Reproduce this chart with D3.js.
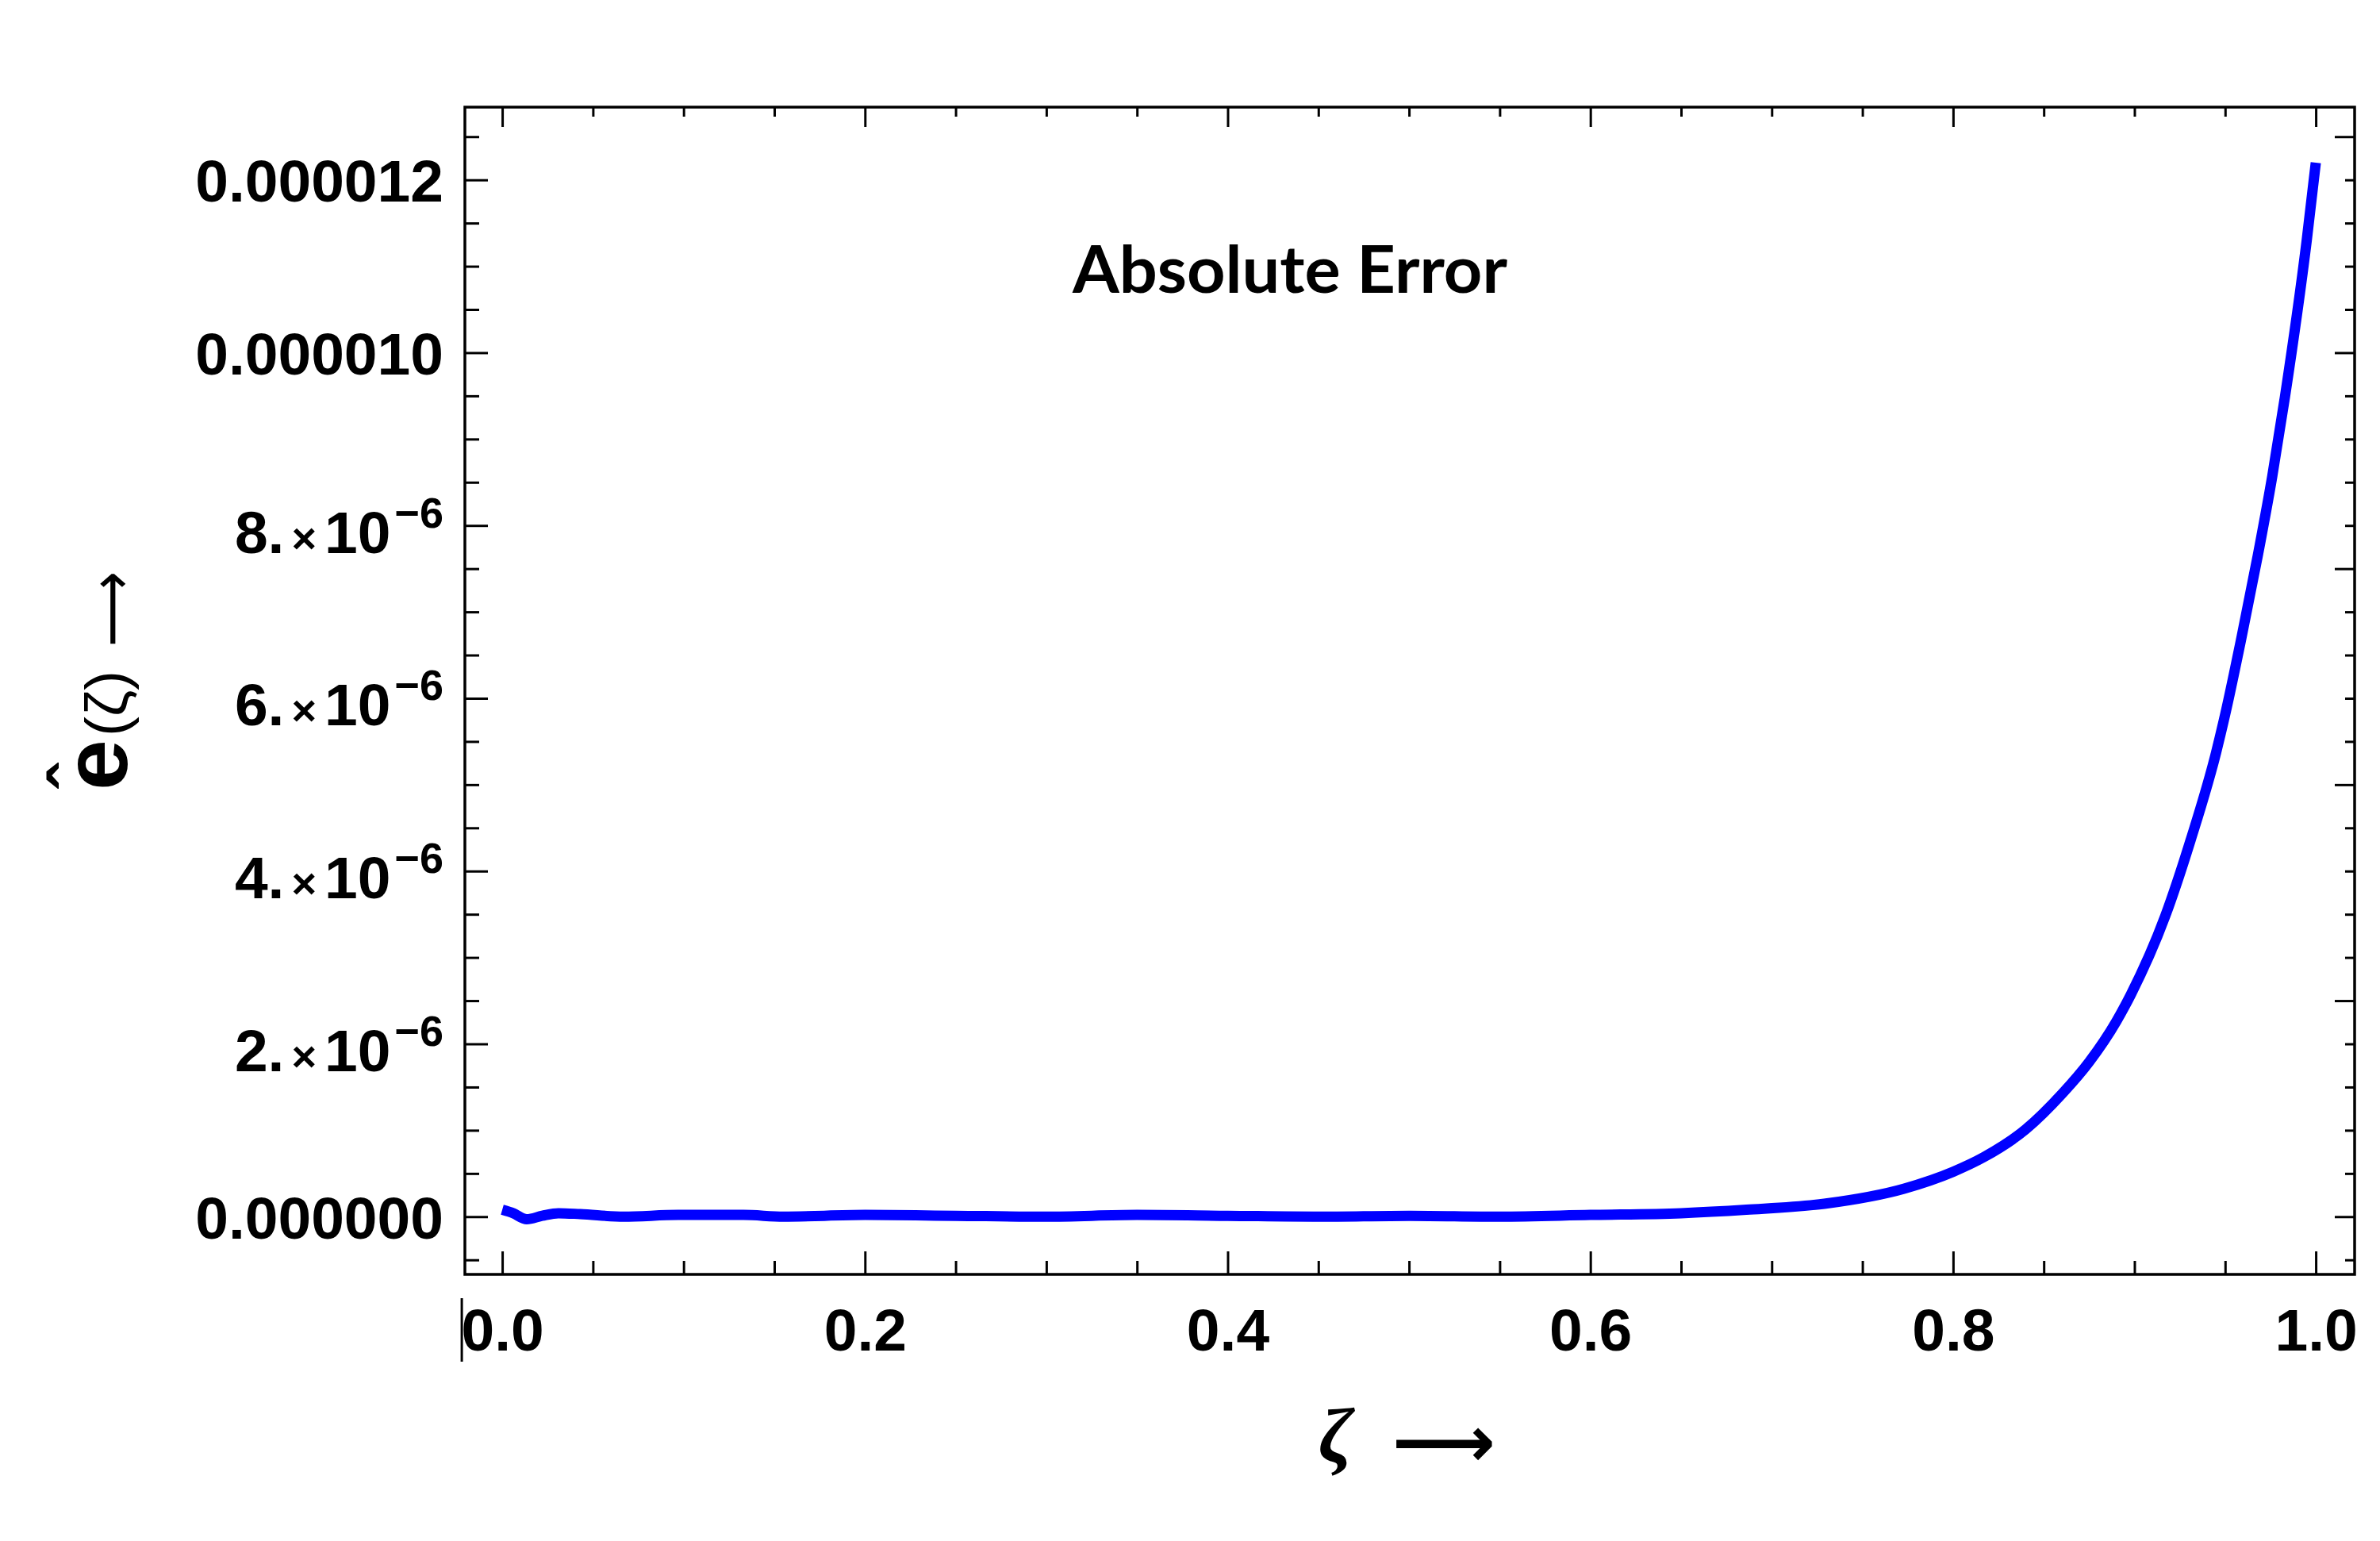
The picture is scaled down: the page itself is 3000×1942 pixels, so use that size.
<!DOCTYPE html>
<html>
<head>
<meta charset="utf-8">
<script src="https://cdn.jsdelivr.net/npm/d3@7"></script>
<style>
  html, body { margin: 0; padding: 0; background: #ffffff; }
  svg { display: block; }
</style>
</head>
<body>
<svg id="chart" width="3000" height="1942"></svg>
<script>
// ---------------- data ----------------
const zeta = [0, 0.006, 0.0135, 0.022, 0.031, 0.043, 0.067, 0.097, 0.133, 0.155,
  0.2, 0.25, 0.3, 0.35, 0.4, 0.45, 0.5, 0.55, 0.6, 0.65,
  0.686, 0.729, 0.773, 0.8, 0.817, 0.84, 0.86, 0.875, 0.89, 0.898,
  0.917, 0.931, 0.945, 0.950, 0.959, 0.968, 0.976, 0.983, 0.995, 1.0];
const absError = [0.08e-6, 0.04e-6, -0.03e-6, 0.01e-6, 0.04e-6, 0.03e-6, 0.0, 0.02e-6, 0.02e-6, 0.0,
  0.02e-6, 0.01e-6, 0.0, 0.02e-6, 0.01e-6, 0.0, 0.01e-6, 0.0, 0.02e-6, 0.04e-6,
  0.08e-6, 0.15e-6, 0.325e-6, 0.52e-6, 0.69e-6, 1.01e-6, 1.42e-6, 1.79e-6, 2.26e-6, 2.57e-6,
  3.48e-6, 4.36e-6, 5.37e-6, 5.81e-6, 6.70e-6, 7.65e-6, 8.57e-6, 9.49e-6, 11.3e-6, 12.2e-6];

const xMajor = [0, 0.2, 0.4, 0.6, 0.8, 1.0];
const xTickLabels = ["0.0", "0.2", "0.4", "0.6", "0.8", "1.0"];
const xMinor = [0.05, 0.1, 0.15, 0.25, 0.3, 0.35, 0.45, 0.5, 0.55, 0.65, 0.7, 0.75, 0.85, 0.9, 0.95];

const yMajorLeft = [0, 2e-6, 4e-6, 6e-6, 8e-6, 10e-6, 12e-6];
const yTickMantissa = ["0.000000", "2.", "4.", "6.", "8.", "0.000010", "0.000012"];
const yTickExponent = [null, "\u22126", "\u22126", "\u22126", "\u22126", null, null];
const yMinorLeft = [-0.5e-6, 0.5e-6, 1e-6, 1.5e-6, 2.5e-6, 3e-6, 3.5e-6, 4.5e-6, 5e-6, 5.5e-6,
  6.5e-6, 7e-6, 7.5e-6, 8.5e-6, 9e-6, 9.5e-6, 10.5e-6, 11e-6, 11.5e-6, 12.5e-6];
const yMajorRight = [0, 2.5e-6, 5e-6, 7.5e-6, 10e-6, 12.5e-6];
const yMinorRight = [-0.5e-6, 0.5e-6, 1e-6, 1.5e-6, 2e-6, 3e-6, 3.5e-6, 4e-6, 4.5e-6, 5.5e-6, 6e-6,
  6.5e-6, 7e-6, 8e-6, 8.5e-6, 9e-6, 9.5e-6, 10.5e-6, 11e-6, 11.5e-6, 12e-6];

const titleText = "Absolute Error";

// ---------------- layout ----------------
const L = 586, R = 2968, T = 135, B = 1606;
const svg = d3.select("#chart");

const x = d3.scaleLinear().domain([-0.0206, 1.0214]).range([L, R]);
const y = d3.scaleLinear().domain([-0.668e-6, 12.842e-6]).range([B, T]);

const tickFont = "'Liberation Sans', Arial, sans-serif";

function styleTicks(g, w) {
  g.select(".domain").remove();
  g.selectAll(".tick line").attr("stroke", "#000").attr("stroke-width", w);
}

// bottom axis: major with labels
const gxB = svg.append("g").attr("transform", `translate(0,${B})`)
  .call(d3.axisBottom(x).tickValues(xMajor).tickSize(-29).tickSizeOuter(0).tickPadding(66)
    .tickFormat((d, i) => xTickLabels[i]));
styleTicks(gxB, 3);
gxB.selectAll(".tick text").attr("font-size", 75).attr("font-weight", "bold")
  .attr("font-family", tickFont).attr("fill", "#000").attr("dy", 0).attr("y", 96);
const gxBm = svg.append("g").attr("transform", `translate(0,${B})`)
  .call(d3.axisBottom(x).tickValues(xMinor).tickSize(-17).tickSizeOuter(0).tickFormat(""));
styleTicks(gxBm, 3);

// top axis
const gxT = svg.append("g").attr("transform", `translate(0,${T})`)
  .call(d3.axisTop(x).tickValues(xMajor).tickSize(-25).tickSizeOuter(0).tickFormat(""));
styleTicks(gxT, 3);
const gxTm = svg.append("g").attr("transform", `translate(0,${T})`)
  .call(d3.axisTop(x).tickValues(xMinor).tickSize(-12).tickSizeOuter(0).tickFormat(""));
styleTicks(gxTm, 3);

// left axis
const gyL = svg.append("g").attr("transform", `translate(${L},0)`)
  .call(d3.axisLeft(y).tickValues(yMajorLeft).tickSize(-29).tickSizeOuter(0).tickPadding(27)
    .tickFormat(""));
styleTicks(gyL, 3);
gyL.selectAll(".tick text").each(function (d, i) {
  const t = d3.select(this)
    .attr("font-size", 75).attr("font-weight", "bold").attr("font-family", tickFont)
    .attr("fill", "#000").attr("text-anchor", "end");
  t.text(null);
  if (yTickExponent[i] === null) {
    t.attr("dy", 27);
    t.append("tspan").text(yTickMantissa[i]);
  } else {
    t.attr("dy", 34);
    t.append("tspan").text(yTickMantissa[i]);
    t.append("tspan").attr("font-size", 54).attr("dx", 9).text("\u00d7");
    t.append("tspan").attr("dx", 10).text("10");
    t.append("tspan").attr("font-size", 54).attr("dx", 5).attr("dy", -32).text(yTickExponent[i]);
  }
});
const gyLm = svg.append("g").attr("transform", `translate(${L},0)`)
  .call(d3.axisLeft(y).tickValues(yMinorLeft).tickSize(-18).tickSizeOuter(0).tickFormat(""));
styleTicks(gyLm, 3);

// right axis
const gyR = svg.append("g").attr("transform", `translate(${R},0)`)
  .call(d3.axisRight(y).tickValues(yMajorRight).tickSize(-25).tickSizeOuter(0).tickFormat(""));
styleTicks(gyR, 3);
const gyRm = svg.append("g").attr("transform", `translate(${R},0)`)
  .call(d3.axisRight(y).tickValues(yMinorRight).tickSize(-12).tickSizeOuter(0).tickFormat(""));
styleTicks(gyRm, 3);

// frame
svg.append("rect").attr("x", L).attr("y", T).attr("width", R - L).attr("height", B - T)
  .attr("fill", "none").attr("stroke", "#000").attr("stroke-width", 3.5);

// curve
const pts = zeta.map((z, i) => [z, absError[i]]);
const line = d3.line().x(d => x(d[0])).y(d => y(d[1])).curve(d3.curveMonotoneX);
svg.append("path").datum(pts).attr("d", line)
  .attr("fill", "none").attr("stroke", "#0000ff").attr("stroke-width", 13)
  .attr("stroke-linejoin", "round").attr("stroke-linecap", "butt");

// title
svg.append("text").attr("x", 1352).attr("y", 369)
  .attr("font-family", "Lato, 'Open Sans', sans-serif").attr("font-weight", "bold")
  .attr("font-size", 82).attr("fill", "#000")
  .attr("textLength", 548).attr("lengthAdjust", "spacingAndGlyphs")
  .text(titleText);

// y-axis label (rotated)
const yl = svg.append("g").attr("transform", "translate(160,992) rotate(-90)");
yl.append("text").attr("x", -4).attr("y", 0)
  .attr("font-family", tickFont).attr("font-weight", "bold").attr("font-size", 115)
  .attr("fill", "#000").text("e");
yl.append("text").attr("x", -2).attr("y", -32)
  .attr("font-family", tickFont).attr("font-weight", "bold").attr("font-size", 92)
  .attr("fill", "#000").text("\u02c6");
yl.append("text").attr("x", 64).attr("y", 0)
  .attr("font-family", tickFont).attr("font-size", 75)
  .attr("fill", "#000").text("(\u03b6)");
yl.append("text").attr("x", 177).attr("y", 6)
  .attr("font-family", "'DejaVu Sans', sans-serif").attr("font-size", 75)
  .attr("textLength", 95).attr("lengthAdjust", "spacingAndGlyphs")
  .attr("fill", "#000").text("\u27f6");

// x-axis label
svg.append("text").attr("x", 1662).attr("y", 1842)
  .attr("font-family", "'Liberation Serif', 'Times New Roman', serif")
  .attr("font-weight", "bold").attr("font-style", "italic").attr("font-size", 98)
  .attr("fill", "#000").text("\u03b6");
svg.append("text").attr("x", 1755).attr("y", 1848)
  .attr("font-family", "'DejaVu Sans', sans-serif").attr("font-weight", "bold").attr("font-size", 90)
  .attr("textLength", 130).attr("lengthAdjust", "spacingAndGlyphs")
  .attr("fill", "#000").text("\u27f6");

// small vertical mark left of the first x label
svg.append("line").attr("x1", x(0) - 51).attr("x2", x(0) - 51).attr("y1", 1636).attr("y2", 1716)
  .attr("stroke", "#000").attr("stroke-width", 3);
</script>
</body>
</html>
